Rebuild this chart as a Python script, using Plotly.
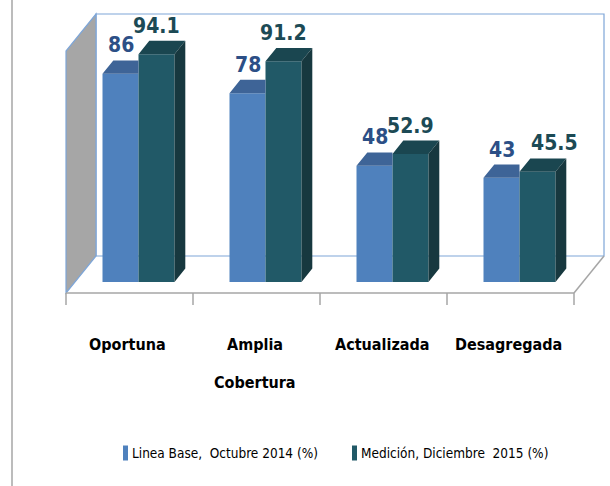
import plotly.graph_objects as go

# ---------------- data ----------------
categories = ["Oportuna", "Amplia\nCobertura", "Actualizada", "Desagregada"]
linea_base = [86, 78, 48, 43]
medicion = [94.1, 91.2, 52.9, 45.5]
series_names = ["Linea Base,  Octubre 2014 (%)", "Medición, Diciembre  2015 (%)"]
value_max = 100

# ---------------- layout / style constants ----------------
W, H = 610, 486
CAT_PX, VAL_PX = 127.0, 2.42          # pixels per category / per value unit
ORIGIN_X, ORIGIN_Y = 129.5, 293.0     # pixel of (category 0, value 0) on the front plane
DX = 30.0 / CAT_PX                    # full-depth shift in x units
DY = 37.0 / VAL_PX                    # full-depth shift in y units
D0, D1 = 0.30, 0.66                   # bar front / back depth fraction
BW = 36.0 / CAT_PX                    # bar width

BLUE_FRONT, BLUE_TOP = "#4F81BD", "#3E6497"
TEAL_FRONT, TEAL_TOP, TEAL_SIDE = "#215967", "#1A4650", "#17383F"
BLUE_TXT, TEAL_TXT = "#2C4F86", "#1C4A55"
WALL_LINE = "#7EA6D8"
GRAY_LINE = "#A6A6A6"
FONT = "DejaVu Sans Condensed, Liberation Sans Narrow, Arial Narrow, sans-serif"
TEAL_LABEL_XSHIFT = [0, 0, 0, 17]     # label nudges (px) to avoid collisions

n = len(categories)
cx = [i + D0 * DX for i in range(n)]
base = [D0 * DY] * n
ddx, ddy = (D1 - D0) * DX, (D1 - D0) * DY

fig = go.Figure()

# front faces
fig.add_trace(go.Bar(x=cx, y=linea_base, base=base, width=BW, offset=-BW,
                     marker=dict(color=BLUE_FRONT, line=dict(width=0)),
                     name=series_names[0], showlegend=False))
fig.add_trace(go.Bar(x=cx, y=medicion, base=base, width=BW, offset=0,
                     marker=dict(color=TEAL_FRONT, line=dict(width=0)),
                     name=series_names[1], showlegend=False))


def poly_trace(xs, ys, color):
    return go.Scatter(x=xs, y=ys, mode="lines", fill="toself", fillcolor=color,
                      line=dict(width=0, color=color), showlegend=False,
                      hoverinfo="skip")


# top of blue bars (part not hidden by the teal bar)
bx, by = [], []
for c, v, b in zip(cx, linea_base, base):
    x0, x1, y = c - BW, c, b + v
    bx += [x0, x1, x1, x0 + ddx, x0, None]
    by += [y, y, y + ddy, y + ddy, y, None]
fig.add_trace(poly_trace(bx, by, BLUE_TOP))

# top and side of teal bars
tx, ty, sx, sy = [], [], [], []
for c, v, b in zip(cx, medicion, base):
    x0, x1, y = c, c + BW, b + v
    tx += [x0, x1, x1 + ddx, x0 + ddx, x0, None]
    ty += [y, y, y + ddy, y + ddy, y, None]
    sx += [x1, x1, x1 + ddx, x1 + ddx, x1, None]
    sy += [b, y, y + ddy, b + ddy, b, None]
fig.add_trace(poly_trace(tx, ty, TEAL_TOP))
fig.add_trace(poly_trace(sx, sy, TEAL_SIDE))

# value labels
LABEL_SIZE = 21
GLOW = "0px 0px 2px #ffffff"
for c, v, b in zip(cx, linea_base, base):
    fig.add_annotation(x=c - BW / 2, y=b + v + ddy, text=f"{v:g}", showarrow=False,
                       yanchor="bottom", yshift=1,
                       font=dict(family=FONT, size=LABEL_SIZE, color=BLUE_TXT,
                                 weight="bold", shadow=GLOW))
for c, v, b, xs in zip(cx, medicion, base, TEAL_LABEL_XSHIFT):
    fig.add_annotation(x=c + BW / 2, y=b + v + ddy, text=f"{v:g}", showarrow=False,
                       yanchor="bottom", yshift=1, xshift=xs,
                       font=dict(family=FONT, size=LABEL_SIZE, color=TEAL_TXT,
                                 weight="bold", shadow=GLOW))

# category labels
for i, cat in enumerate(categories):
    for k, line in enumerate(cat.split("\n")):
        fig.add_annotation(x=i - 2 / CAT_PX, y=-(51 + 38 * k) / VAL_PX, text=line,
                           showarrow=False, yanchor="middle",
                           font=dict(family=FONT, size=16, color="#000000", weight="bold"))

# ---------------- walls / floor ----------------
L, R = -0.5, n - 0.5
shapes = []
# back wall
shapes.append(dict(type="rect", xref="x", yref="y", x0=L + DX, x1=R + DX, y0=DY,
                   y1=DY + value_max, fillcolor="white",
                   line=dict(color=WALL_LINE, width=1.2), layer="below"))
# left side wall
shapes.append(dict(type="path", xref="x", yref="y",
                   path=f"M {L},0 L {L + DX},{DY} L {L + DX},{DY + value_max} L {L},{value_max} Z",
                   fillcolor="#A6A6A6", line=dict(color=WALL_LINE, width=1.2), layer="below"))
# floor front edge and right edge
shapes.append(dict(type="line", xref="x", yref="y", x0=L, x1=R, y0=0, y1=0,
                   line=dict(color=GRAY_LINE, width=1.5), layer="below"))
shapes.append(dict(type="line", xref="x", yref="y", x0=R, x1=R + DX, y0=0, y1=DY,
                   line=dict(color=GRAY_LINE, width=1.5), layer="below"))
# ticks
for k in range(n + 1):
    shapes.append(dict(type="line", xref="x", yref="y", x0=L + k, x1=L + k, y0=0,
                       y1=-12 / VAL_PX, line=dict(color=GRAY_LINE, width=1.5),
                       layer="below"))
# outer chart border at left
shapes.append(dict(type="line", xref="paper", yref="paper", x0=12 / W, x1=12 / W,
                   y0=0, y1=1, line=dict(color=GRAY_LINE, width=1.5)))

# ---------------- legend (swatch + text) ----------------
LEG_Y = 453
legend_items = [(series_names[0], BLUE_FRONT, 123), (series_names[1], TEAL_FRONT, 352)]
for name, color, x_px in legend_items:
    shapes.append(dict(type="rect", xref="paper", yref="paper",
                       x0=x_px / W, x1=(x_px + 5) / W,
                       y0=1 - (LEG_Y + 7.5) / H, y1=1 - (LEG_Y - 7.5) / H,
                       fillcolor=color, line=dict(width=0)))
    fig.add_annotation(xref="paper", yref="paper", x=(x_px + 7) / W, y=1 - LEG_Y / H,
                       xanchor="left", yanchor="middle", showarrow=False,
                       text=name.replace("  ", "&nbsp; "),
                       font=dict(family=FONT, size=13.5, color="#000000"))

fig.update_layout(
    width=W, height=H,
    margin=dict(l=0, r=0, t=0, b=0),
    paper_bgcolor="white", plot_bgcolor="white",
    barmode="overlay",
    shapes=shapes,
    xaxis=dict(range=[-ORIGIN_X / CAT_PX, (W - ORIGIN_X) / CAT_PX], visible=False,
               fixedrange=True),
    yaxis=dict(range=[(ORIGIN_Y - H) / VAL_PX, ORIGIN_Y / VAL_PX], visible=False,
               fixedrange=True),
    showlegend=False,
)

fig.write_html("out.html", config={"displayModeBar": False},
               post_script="document.body.style.margin='0';"
                           "document.body.style.overflow='hidden';")
